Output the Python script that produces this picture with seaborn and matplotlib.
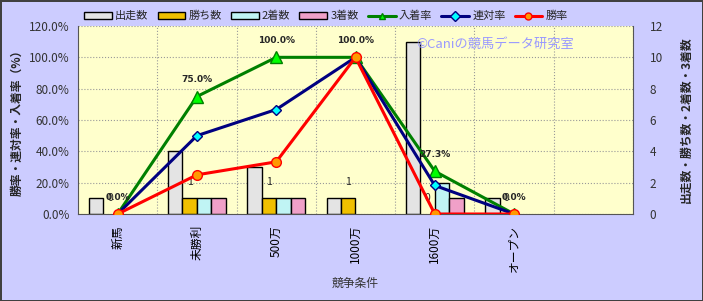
import numpy as np
import pandas as pd
import matplotlib
matplotlib.use("Agg")
import matplotlib.pyplot as plt
import seaborn as sns
from matplotlib.patches import Patch
from matplotlib.lines import Line2D

categories = ["新馬", "未勝利", "500万", "1000万", "1600万", "オープン"]
starts = [1, 4, 3, 1, 11, 1]
wins = [0, 1, 1, 1, 0, 0]
seconds = [0, 1, 1, 0, 2, 0]
thirds = [0, 1, 1, 0, 1, 0]
place_rate = [0.0, 75.0, 100.0, 100.0, 27.3, 0.0]
quinella_rate = [0.0, 50.0, 66.7, 100.0, 18.2, 0.0]
win_rate = [0.0, 25.0, 33.3, 100.0, 0.0, 0.0]

bar_series = ["出走数", "勝ち数", "2着数", "3着数"]
bar_colors = ["#E4E4E4", "#F0C000", "#C0F4F4", "#F0A0C8"]
line_series = ["入着率", "連対率", "勝率"]
line_colors = ["#008000", "#000080", "#FF0000"]
marker_faces = ["#00FF00", "#00FFFF", "#FF9900"]
markers = ["^", "D", "o"]
msizes = [8, 5.5, 7]

sns.set_style("white")
plt.rcParams["font.family"] = ["Noto Sans CJK JP", "DejaVu Sans"]

fig = plt.figure(figsize=(7.03, 3.01), dpi=100)
fig.patch.set_facecolor("#CCCCFF")
fig.patch.set_edgecolor("#404040")
fig.patch.set_linewidth(2)

ax1 = fig.add_axes([78 / 703, 1 - 214 / 301, (633 - 78) / 703, (214 - 26) / 301])
ax1.set_facecolor("#FFFFCC")

bar_df = pd.DataFrame({
    "cat": np.repeat(categories, 4),
    "series": bar_series * len(categories),
    "val": np.ravel(np.column_stack([starts, wins, seconds, thirds])),
})
sns.barplot(data=bar_df, x="cat", y="val", hue="series", order=categories,
            hue_order=bar_series, palette=bar_colors, width=0.73,
            edgecolor="black", linewidth=1, ax=ax1, legend=False, saturation=1)
for p in ax1.patches:
    if p.get_height() == 0:
        p.set_linewidth(0)

ax1.set_xlim(-0.5, 6.5)
ax1.set_ylim(0, 12)
ax1.set_yticks(np.arange(0, 13, 2))
ax1.set_xticks(range(len(categories)))
ax1.set_xticklabels(categories, rotation=90, fontsize=8.5, color="black")
ax1.tick_params(axis="x", length=0, pad=8)
ax1.set_xticks(np.arange(0.5, 7, 1), minor=True)
ax1.tick_params(axis="x", which="minor", length=0)
ax1.grid(axis="y", which="major", linestyle=":", color="#999999", linewidth=0.8)
ax1.grid(axis="x", which="minor", linestyle=":", color="#999999", linewidth=0.8)
ax1.set_axisbelow(True)
ax1.set_xlabel("")
for s in ["left", "right", "bottom"]:
    ax1.spines[s].set_color("#555555")
ax1.spines["top"].set_visible(False)

# win count labels
bw = 0.73 / 4
for i, w in enumerate(wins):
    ax1.annotate(str(w), (i - bw / 2, w), xytext=(0, 8), textcoords="offset points",
                 ha="center", va="bottom", fontsize=7.5)

ax2 = ax1.twinx()
line_df = pd.DataFrame({
    "x": np.tile(np.arange(len(categories)), 3),
    "series": np.repeat(line_series, len(categories)),
    "val": place_rate + quinella_rate + win_rate,
})
for name, col, mf, mk, ms in zip(line_series, line_colors, marker_faces, markers, msizes):
    sub = line_df[line_df["series"] == name]
    sns.lineplot(data=sub, x="x", y="val", color=col, linewidth=2.2, marker=mk,
                 markersize=ms, markerfacecolor=mf, markeredgecolor=col,
                 markeredgewidth=1, ax=ax2, legend=False)
ax2.set_ylim(0, 120)
ax2.set_xlim(-0.5, 6.5)
ax2.set_yticks(np.arange(0, 121, 20))
ax2.set_yticklabels([f"{v:.1f}%" for v in np.arange(0, 121, 20)])
ax2.set_xlabel("")
for s in ax2.spines.values():
    s.set_visible(False)

# axis sides (after twinx)
ax1.yaxis.tick_right()
ax1.yaxis.set_label_position("right")
ax1.tick_params(axis="y", labelsize=8.5, colors="#333333", length=0, pad=12)
ax1.set_ylabel("出走数・勝ち数・2着数・3着数", fontsize=8.5, fontweight="bold",
               rotation=90, labelpad=12)
ax2.yaxis.tick_left()
ax2.yaxis.set_label_position("left")
ax2.tick_params(axis="y", labelsize=8.5, colors="#333333", length=0, pad=6)
ax2.set_ylabel("勝率・連対率・入着率（%）", fontsize=8.5, fontweight="bold", labelpad=4)

for i, v in enumerate(place_rate):
    ax2.annotate(f"{v:.1f}%", (i, v), xytext=(0, 9), textcoords="offset points",
                 ha="center", va="bottom", fontsize=6.5, fontweight="bold",
                 family="DejaVu Sans")

fig.text(416 / 703, 1 - 44 / 301, "©Caniの競馬データ研究室", fontsize=9.5,
         color="#9999FF", ha="left", va="center")
fig.text(355 / 703, 1 - 283 / 301, "競争条件", fontsize=8.5, color="#333333",
         ha="center", va="center")

handles = [Patch(facecolor=c, edgecolor="black", label=n) for n, c in zip(bar_series, bar_colors)]
handles += [Line2D([0], [0], color=c, lw=2.2, marker=m, markerfacecolor=f,
                   markeredgecolor=c, markersize=5, label=n)
            for n, c, f, m in zip(line_series, line_colors, marker_faces, markers)]
fig.legend(handles=handles, loc="center", bbox_to_anchor=(326 / 703, 1 - 16 / 301),
           ncol=7, frameon=False, fontsize=8, handlelength=2.5, handleheight=0.6,
           columnspacing=0.8, handletextpad=0.3)

fig.savefig("out.png", dpi=100, facecolor=fig.get_facecolor(), edgecolor=fig.get_edgecolor())
